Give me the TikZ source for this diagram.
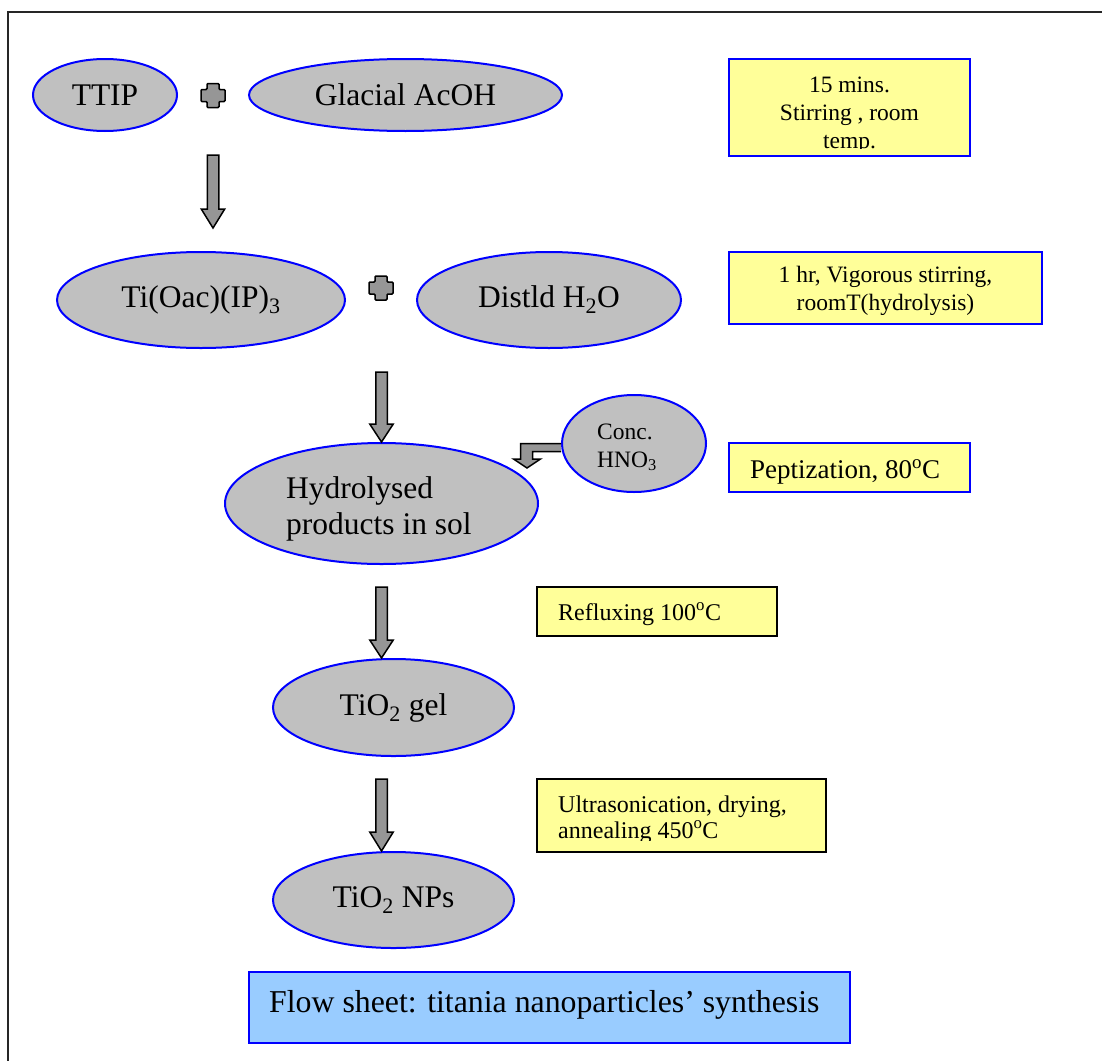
\documentclass[tikz,border=0pt]{standalone}
\usepackage{fontspec}
\setmainfont{Liberation Serif}
\usetikzlibrary{shapes.geometric,calc}
\definecolor{ellfill}{HTML}{C0C0C0}
\definecolor{arrfill}{HTML}{969696}
\definecolor{yfill}{HTML}{FFFF99}
\definecolor{bfill}{HTML}{99CCFF}
\definecolor{eblue}{HTML}{0000FF}
\tikzset{
 ellnode/.style={ellipse, draw=eblue, line width=2, fill=ellfill, inner sep=0, font=\fontsize{31.5}{36}\selectfont, align=center},
 notebox/.style={rectangle, fill=yfill, line width=2.5, inner sep=0},
 bigtext/.style={inner sep=0, font=\fontsize{31.5}{36}\selectfont},
 midtext/.style={inner sep=0, font=\fontsize{23.5}{28}\selectfont},
 blockarrow/.style={fill=arrfill, draw=black, line width=1.5, line join=miter},
 plussign/.pic={\path[blockarrow, rounded corners=1pt] (-6,-12) -- (6,-12) -- (6,-6) -- (12,-6) -- (12,6) -- (6,6) -- (6,12) -- (-6,12) -- (-6,6) -- (-12,6) -- (-12,-6) -- (-6,-6) -- cycle;}
}
\newcommand{\DownBlock}[3]{%
 \path[blockarrow] let \p1=(#1), \p2=(#2) in
 (\x1-5.75pt,\y1) -- (\x1+5.75pt,\y1) -- (\x1+5.75pt,\y2+#3) -- (\x1+11.75pt,\y2+#3) -- (\x1,\y2) -- (\x1-11.75pt,\y2+#3) -- (\x1-5.75pt,\y2+#3) -- cycle;}
\begin{document}
\begin{tikzpicture}[x=1pt,y=-1pt]
\clip (0,0) rectangle (1102,1060);
\draw[line width=2, black!85] (8,12) rectangle (1130,1090);

% ellipses
\node[ellnode, minimum width=144, minimum height=72] (ttip) at (105,95) {TTIP};
\node[ellnode, minimum width=313, minimum height=72] (acoh) at (405.5,95) {Glacial AcOH};
\node[ellnode, minimum width=288, minimum height=96] (tioac) at (201,300) {Ti(Oac)(IP)\textsubscript{3}};
\node[ellnode, minimum width=264, minimum height=96] (water) at (549,300) {Distld H\textsubscript{2}O};
\node[ellnode, minimum width=313, minimum height=121] (hyd) at (381.5,503.5) {};
\node[bigtext, anchor=base west, align=left] (hydtext) at (286,534) {Hydrolysed\\products in sol};
\node[ellnode, minimum width=144, minimum height=97] (hno) at (634,443.5) {};
\node[midtext, anchor=base west, align=left] (hnotext) at (597,467) {Conc.\\HNO\textsubscript{3}};
\node[ellnode, minimum width=241, minimum height=97] (gel) at (393.5,707.5) {TiO\textsubscript{2} gel};
\node[ellnode, minimum width=241, minimum height=96] (nps) at (393.5,900) {TiO\textsubscript{2} NPs};

% plus signs
\pic (plusa) at (213,95.5) {plussign};
\pic (plusb) at (381,288) {plussign};

% block arrows
\coordinate (a1s) at (213,155);
\coordinate (a1e) at (213,228);
\DownBlock{a1s}{a1e}{19pt}
\coordinate (a2s) at (381.5,372);
\DownBlock{a2s}{hyd.north}{18pt}
\coordinate (a3s) at (381.5,587);
\DownBlock{a3s}{a3s |- gel.north}{18pt}
\coordinate (a4s) at (381.5,779);
\DownBlock{a4s}{a4s |- nps.north}{19pt}

% bent arrow from HNO3
\coordinate (btip) at (527,468);
\path[blockarrow] (hno.west) -- ($(btip)+(-6.5,-24.5)$) -- ($(btip)+(-6.5,-9)$) -- ($(btip)+(-13.5,-9)$) -- (btip) -- ($(btip)+(13.5,-9)$) -- ($(btip)+(5.5,-9)$) -- ($(btip)+(5.5,-16.5)$) -- ($(hno.west)+(0,8)$);

% note boxes
\node[notebox, draw=eblue, minimum width=241, minimum height=97] (n1) at (849.5,107.5) {};
\begin{scope}
\clip (n1.north west) rectangle ($(n1.south east)+(0,-9)$);
\node[midtext, anchor=base, align=center] (n1t) at (849.5,148) {15 mins.\\Stirring , room\\temp.};
\end{scope}

\node[notebox, draw=eblue, minimum width=313, minimum height=72] (n2) at (885.5,288) {};
\begin{scope}
\clip (n2.north west) rectangle ($(n2.south east)+(0,-11)$);
\node[midtext, anchor=base, align=center] (n2t) at (885.5,310) {1 hr, Vigorous stirring,\\roomT(hydrolysis)};
\end{scope}

\node[notebox, draw=eblue, minimum width=241, minimum height=49] (n3) at (849.5,467.5) {};
\begin{scope}
\clip (n3.north west) rectangle ($(n3.south east)+(0,-9)$);
\node[inner sep=0, font=\fontsize{27}{32}\selectfont, anchor=base west] (n3t) at (750,478) {Peptization, 80\textsuperscript{o}C};
\end{scope}

\node[notebox, draw=black, minimum width=240, minimum height=49] (n4) at (657,611.5) {};
\node[inner sep=0, font=\fontsize{24}{26}\selectfont, anchor=base west] (n4t) at (558,620) {Refluxing 100\textsuperscript{o}C};

\node[notebox, draw=black, minimum width=289, minimum height=73] (n5) at (681.5,815.5) {};
\begin{scope}
\clip (n5.north west) rectangle ($(n5.south east)+(0,-13)$);
\node[inner sep=0, font=\fontsize{24}{26}\selectfont, anchor=base west, align=left] (n5t) at (558,838) {Ultrasonication, drying,\\annealing 450\textsuperscript{o}C};
\end{scope}

% title box
\node[rectangle, fill=bfill, draw=eblue, line width=2.5, minimum width=601, minimum height=71, inner sep=0] (title) at (549.5,1007.5) {};
\node[inner sep=0, font=\fontsize{31.8}{36}\selectfont, anchor=base west] (titletext) at (269,1012) {Flow sheet: titania nanoparticles’ synthesis};
\end{tikzpicture}
\end{document}
